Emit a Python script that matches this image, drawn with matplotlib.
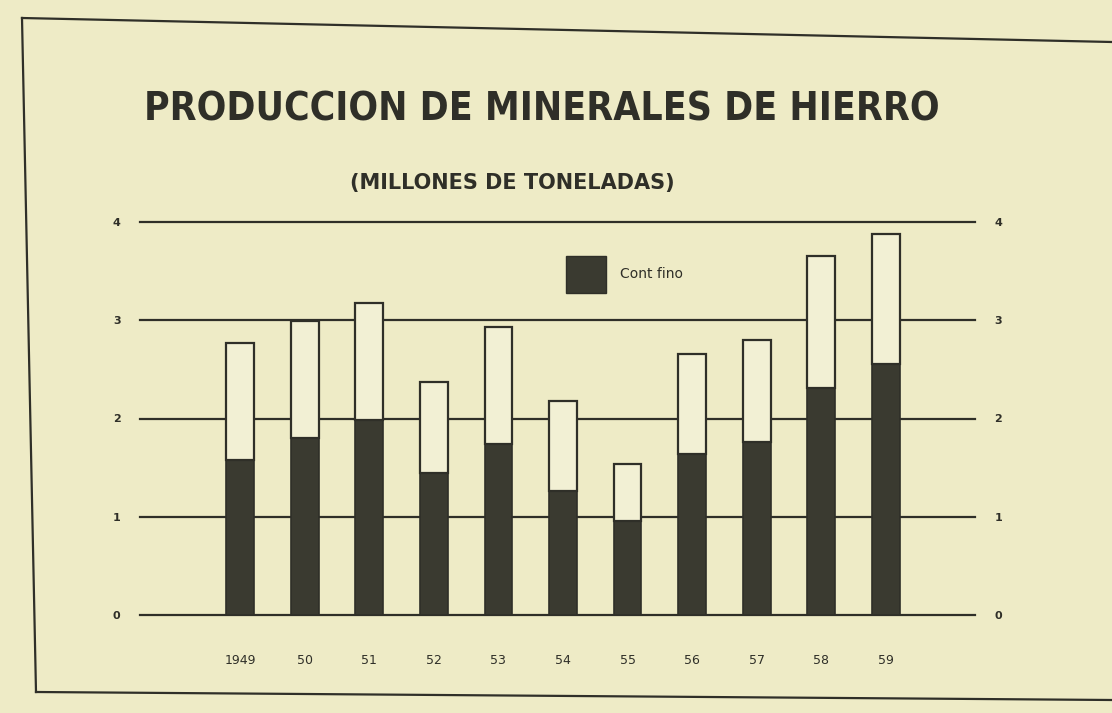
import numpy as np
import matplotlib.pyplot as plt
from matplotlib.lines import Line2D
from matplotlib.patches import Patch

# data (millions of tonnes)
years = ["1949", "50", "51", "52", "53", "54", "55", "56", "57", "58", "59"]
total = [2.77, 2.99, 3.18, 2.37, 2.93, 2.18, 1.54, 2.66, 2.80, 3.65, 3.88]
cont_fino = [1.58, 1.80, 1.98, 1.45, 1.74, 1.26, 0.96, 1.64, 1.76, 2.31, 2.55]
yticks = [0, 1, 2, 3, 4]

paper = "#EEEBC6"
ink = "#2f2f28"
dark = "#3a3a30"

plt.rcParams["font.family"] = "DejaVu Sans"

fig = plt.figure(figsize=(11.12, 7.13), dpi=100)
fig.patch.set_facecolor(paper)

ax = fig.add_axes([140 / 1112, 1 - 615 / 713, 835 / 1112, (615 - 222) / 713])
ax.set_facecolor(paper)
ax.patch.set_alpha(0)

x = np.arange(len(years))
ax.set_xlim(-1.55, 11.38)
ax.set_ylim(0, 4)

# horizontal rules
for v in yticks:
    ax.axhline(v, color=ink, lw=1.6, zorder=1, clip_on=False)

w = 0.43
rest = [t - c for t, c in zip(total, cont_fino)]
ax.bar(x, cont_fino, width=w, color=dark, edgecolor=ink, lw=1.2, zorder=3)
ax.bar(x, rest, bottom=cont_fino, width=w, color="#F2F0D4", edgecolor=ink,
       lw=1.6, zorder=3)

for s in ax.spines.values():
    s.set_visible(False)

ax.set_xticks(x)
ax.set_xticklabels(years, fontsize=9, color=ink)
ax.tick_params(axis="x", length=0, pad=28)
ax.set_yticks(yticks)
ax.set_yticklabels([str(v) for v in yticks], fontsize=8, color=ink, fontweight="bold")
ax.tick_params(axis="y", length=0, pad=14, labelright=True, labelleft=True)

leg = ax.legend(handles=[Patch(facecolor=dark, edgecolor=ink)], labels=["Cont fino"],
                loc="upper left", bbox_to_anchor=(0.495, 0.945), frameon=False,
                handlelength=2.9, handleheight=3.7, handletextpad=1.0, fontsize=10)
for t in leg.get_texts():
    t.set_color(ink)

fig.text(0.487, 0.846, "PRODUCCION DE MINERALES DE HIERRO", ha="center", va="center",
         fontsize=28, fontweight="bold", color=ink, fontstretch="condensed")
fig.text(0.461, 0.744, "(MILLONES DE TONELADAS)", ha="center", va="center",
         fontsize=15, fontweight="bold", color=ink)

# hand-drawn frame around the chart
fig.add_artist(Line2D([22 / 1112, 1.0], [1 - 18 / 713, 1 - 42 / 713], color=ink, lw=1.6))
fig.add_artist(Line2D([22 / 1112, 36 / 1112], [1 - 18 / 713, 1 - 692 / 713], color=ink, lw=1.6))
fig.add_artist(Line2D([36 / 1112, 1.0], [1 - 692 / 713, 1 - 700 / 713], color=ink, lw=1.6))

fig.savefig("out.png", dpi=100, facecolor=paper)
